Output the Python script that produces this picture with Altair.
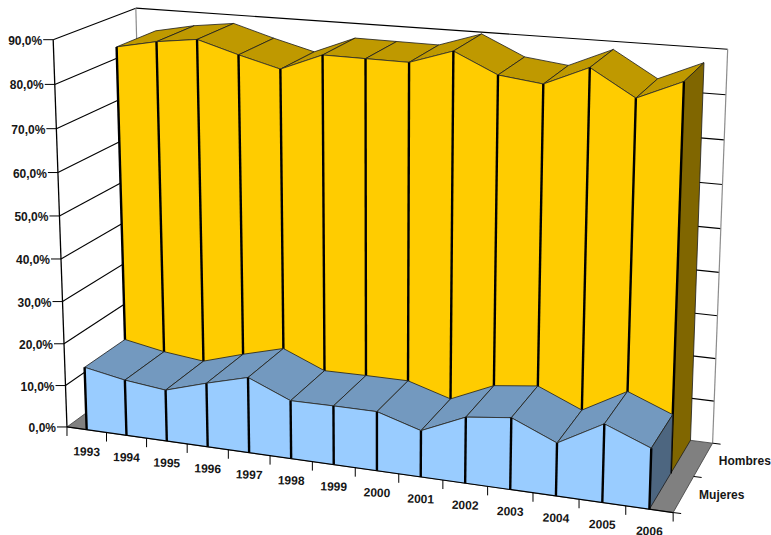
import altair as alt
import numpy as np
import pandas as pd

# Share of each group per year, in percent
YEARS = ["1993", "1994", "1995", "1996", "1997", "1998", "1999",
         "2000", "2001", "2002", "2003", "2004", "2005", "2006"]
MUJERES = [15.0, 13.2, 12.1, 15.0, 17.6, 13.5, 13.6, 13.6, 10.6, 15.0, 16.2, 11.9, 17.5, 13.5]
HOMBRES = [84.9, 86.8, 88.0, 85.2, 82.7, 86.6, 86.5, 86.4, 89.6, 85.1, 83.9, 88.2, 82.4, 86.7]
VALUE_TICKS = [0, 10, 20, 30, 40, 50, 60, 70, 80, 90]
VALUE_LABELS = ["0,0%", "10,0%", "20,0%", "30,0%", "40,0%", "50,0%", "60,0%", "70,0%", "80,0%", "90,0%"]
SERIES_LABELS = ["Mujeres", "Hombres"]

W, H = 771, 535
N = len(YEARS)
FONT = "Liberation Sans"

# Camera: a projective map from the box (category, depth, value) to the canvas,
# solved from where the corners of the box should land.
BOX_CORNERS = [((0, 0, 0), (67, 427)), ((1, 0, 0), (673, 512.7)), ((1, 1, 0), (712.7, 443)),
               ((0, 0, 90), (53.3, 39.5)), ((0, 1, 90), (135.7, 8.3)), ((1, 1, 90), (727.7, 49.3))]
rows_a, rows_b = [], []
for (u, v, h), (x, y) in BOX_CORNERS:
    h = h / 90
    rows_a.append([u, v, h, 1, 0, 0, 0, 0, -x * u, -x * v, -x * h])
    rows_b.append(x)
    rows_a.append([0, 0, 0, 0, u, v, h, 1, -y * u, -y * v, -y * h])
    rows_b.append(y)
p = np.linalg.lstsq(np.array(rows_a, float), np.array(rows_b, float), rcond=None)[0]
CAMERA = np.array([p[:4], p[4:8], [*p[8:], 1]])


def proj(u, v, h):
    w = CAMERA @ np.array([u, v, h / 90, 1])
    return [float(w[0] / w[2]), float(w[1] / w[2])]


def poly(corners, fill, stroke="transparent", sw=0):
    pts = [proj(*c) for c in corners]
    return {"type": "Feature",
            "geometry": {"type": "Polygon", "coordinates": [pts + [pts[0]]]},
            "properties": {"fill": fill, "stroke": stroke, "sw": sw}}


def seg(a, b, color="#000000", w=1.0):
    (x, y), (x2, y2) = proj(*a), proj(*b)
    return {"x": x, "y": y, "x2": x2, "y2": y2, "color": color, "w": w}


def shift(row, dx, dy):
    """Tick stub leaving a projected point by a fixed screen offset."""
    return {**row, "x2": row["x"] + dx, "y2": row["y"] + dy}


xs = alt.Scale(domain=[0, W], range=[0, W])
ys = alt.Scale(domain=[0, H], range=[0, H])
identity = dict(type="identity", reflectY=False, scale=1, translate=[0, 0])


def shapes(features):
    return alt.Chart(alt.Data(values=features)).mark_geoshape().encode(
        fill=alt.Fill("properties.fill:N", scale=None),
        stroke=alt.Stroke("properties.stroke:N", scale=None),
        strokeWidth=alt.StrokeWidth("properties.sw:Q", scale=None),
    ).project(**identity)


def rules(rows):
    return alt.Chart(pd.DataFrame(rows)).mark_rule().encode(
        x=alt.X("x:Q", scale=xs, axis=None),
        y=alt.Y("y:Q", scale=ys, axis=None),
        x2="x2:Q", y2="y2:Q",
        color=alt.Color("color:N", scale=None),
        strokeWidth=alt.StrokeWidth("w:Q", scale=None),
    )


def texts(rows, **mark):
    return alt.Chart(pd.DataFrame(rows)).mark_text(
        font=FONT, fontWeight="bold", fontSize=12, color="#161616", baseline="middle", **mark
    ).encode(
        x=alt.X("x:Q", scale=xs, axis=None),
        y=alt.Y("y:Q", scale=ys, axis=None),
        text="t:N",
    )


def ribbon(values, v0, v1, top_fill, front_fill, side_fill):
    """One area series: top facets, end cap and front facets, back to front."""
    U = [(i + 0.5) / N for i in range(N)]
    faces = []
    for i in range(N - 1):
        faces.append(poly([(U[i], v0, values[i]), (U[i + 1], v0, values[i + 1]),
                           (U[i + 1], v1, values[i + 1]), (U[i], v1, values[i])],
                          top_fill, "#1c1c1c", 0.8))
    faces.append(poly([(U[-1], v0, values[-1]), (U[-1], v1, values[-1]),
                       (U[-1], v1, 0), (U[-1], v0, 0)], side_fill, "#1c1c1c", 0.8))
    for i in range(N - 1):
        faces.append(poly([(U[i], v0, values[i]), (U[i + 1], v0, values[i + 1]),
                           (U[i + 1], v0, 0), (U[i], v0, 0)], front_fill))
    edges = [seg((U[i], v0, values[i]), (U[i + 1], v0, values[i + 1]), "#2a2a2a", 0.8) for i in range(N - 1)]
    edges += [seg((U[i], v0, values[i]), (U[i], v0, 0), "#000000", 2.4) for i in range(N)]
    return shapes(faces) + rules(edges)


# Floor and the walls' grid
floor = shapes([poly([(0, 0, 0), (1, 0, 0), (1, 1, 0), (0, 1, 0)], "#808080", "#3c3c3c", 0.8)])
grid = []
for t in VALUE_TICKS[1:]:
    grid.append(seg((0, 0, t), (0, 1, t), "#000000", 1.1))
    grid.append(seg((0, 1, t), (1, 1, t), "#000000", 1.1))
grid.append(seg((0, 1, 0), (0, 1, 90), "#8c8c8c", 1.2))
grid.append(seg((1, 1, 0), (1, 1, 90), "#8c8c8c", 1.2))

hombres = ribbon(HOMBRES, 0.5, 1.0, "#BF9900", "#FFCC00", "#806600")
mujeres = ribbon(MUJERES, 0.0, 0.5, "#7399BF", "#99CCFF", "#4D6680")

# Axis lines and tick stubs
axes = [seg((0, 0, 0), (0, 0, 90), "#000000", 1.3), seg((0, 0, 0), (1, 0, 0), "#000000", 1.2)]
axes += [shift(seg((0, 0, t), (0, 0, t)), -10, 0) for t in VALUE_TICKS]
axes += [shift(seg((i / N, 0, 0), (i / N, 0, 0)), 0, 9) for i in range(N + 1)]
axes += [shift(seg((1, d, 0), (1, d, 0)), 8, 1) for d in (0, 0.5, 1)]

value_text = texts([{"x": proj(0, 0, t)[0] - 11, "y": proj(0, 0, t)[1] + 1, "t": s}
                    for t, s in zip(VALUE_TICKS, VALUE_LABELS)], align="right")
year_text = texts([{"x": proj((i + 0.5) / N, 0, 0)[0], "y": proj((i + 0.5) / N, 0, 0)[1] + 22, "t": s}
                   for i, s in enumerate(YEARS)], align="center", angle=2)
series_text = texts([{"x": proj(1, d, 0)[0] + 15.5, "y": proj(1, d, 0)[1] + 1, "t": s}
                     for d, s in zip((0.25, 0.75), SERIES_LABELS)], align="left")

chart = alt.layer(
    floor, rules(grid), hombres, mujeres, rules(axes), value_text, year_text, series_text
).properties(width=W, height=H, padding=0, autosize="none").configure_view(stroke=None)

chart.save("out.html", embed_options={"renderer": "svg", "actions": False})
